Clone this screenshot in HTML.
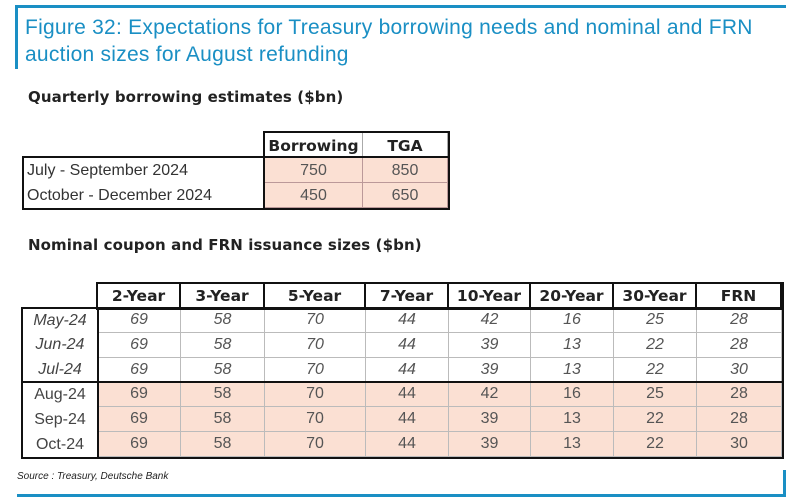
<!DOCTYPE html>
<html><head><meta charset="utf-8"><style>
body{margin:0;width:801px;height:504px;background:#fff;position:relative;overflow:hidden;font-family:"Liberation Sans",sans-serif}
.abs{position:absolute}
.c{position:absolute;box-sizing:border-box;display:flex;align-items:center;justify-content:center;font-size:16px;color:#555}
</style></head><body>
<div class="abs" style="left:15px;top:5px;width:771px;height:3px;background:#1a8fc4"></div>
<div class="abs" style="left:15px;top:5px;width:3px;height:64px;background:#1a8fc4"></div>
<div class="abs" style="left:25px;top:14px;font-size:21px;letter-spacing:0.25px;line-height:27px;color:#1a8fc4">Figure 32: Expectations for Treasury borrowing needs and nominal and FRN<br>auction sizes for August refunding</div>
<div class="abs" style="left:28px;top:88px;font-size:15px;font-weight:bold;color:#222;font-family:'DejaVu Sans',sans-serif;letter-spacing:0.1px">Quarterly borrowing estimates ($bn)</div>
<div class="abs" style="left:28px;top:236px;font-size:15px;font-weight:bold;color:#222;font-family:'DejaVu Sans',sans-serif;letter-spacing:0.1px">Nominal coupon and FRN issuance sizes ($bn)</div>
<div id="t1"></div>
<div id="t2"></div>
<div class="abs" style="left:17px;top:471px;font-size:10px;font-style:italic;color:#222">Source : Treasury, Deutsche Bank</div>
<div class="abs" style="left:17px;top:494px;width:769px;height:3px;background:#1a8fc4"></div>
<div class="abs" style="left:783px;top:470px;width:3px;height:27px;background:#1a8fc4"></div>
<script>
const t1Headers=["Borrowing","TGA"];
const t1Rows=["July - September 2024","October - December 2024"];
const t1Borrowing=[750,450];
const t1TGA=[850,650];
const t2Headers=["2-Year","3-Year","5-Year","7-Year","10-Year","20-Year","30-Year","FRN"];
const t2Rows=["May-24","Jun-24","Jul-24","Aug-24","Sep-24","Oct-24"];
const t2Values=[
[69,58,70,44,42,16,25,28],
[69,58,70,44,39,13,22,28],
[69,58,70,44,39,13,22,30],
[69,58,70,44,42,16,25,28],
[69,58,70,44,39,13,22,28],
[69,58,70,44,39,13,22,30]];
const PINK="#fbe0d3";
function cell(parent,x,y,w,h,txt,st){
  const d=document.createElement('div');d.className='c';
  d.style.left=x+'px';d.style.top=y+'px';d.style.width=w+'px';d.style.height=h+'px';
  Object.assign(d.style,st||{});d.textContent=txt;parent.appendChild(d);return d;}
function box(parent,x,y,w,h,b){
  const d=document.createElement('div');d.className='abs';
  d.style.cssText=`left:${x}px;top:${y}px;width:${w}px;height:${h}px;border:${b};box-sizing:border-box`;
  
  
  parent.appendChild(d);}
const t1=document.getElementById('t1');
const c1=[265,363,448];
t1Headers.forEach((h,i)=>{
  const d=cell(t1,c1[i],133,c1[i+1]-c1[i],25,h,{fontWeight:'bold',color:'#222',fontFamily:"'DejaVu Sans',sans-serif",fontSize:'15.5px',borderRight:'1px solid #aaa'});
  
  
});
t1Rows.forEach((r,i)=>{
  const y=158+i*25;
  const l=cell(t1,23,y,242,25,r,{justifyContent:'flex-start',paddingLeft:'4px',color:'#333'});
  
  
  [t1Borrowing[i],t1TGA[i]].forEach((v,j)=>{
    const d=cell(t1,c1[j],y,c1[j+1]-c1[j],25,v,{background:PINK,borderRight:'1px solid #b99',borderBottom:'1px solid #b99',paddingTop:'2px'});
    
    
  });
});
box(t1,263,131,187,79,'2px solid #111');
box(t1,22,156,428,54,'2px solid #111');
const t2=document.getElementById('t2');
const c2=[98,181,265,366,449,531,614,697,782];
t2Headers.forEach((h,i)=>{
  const d=cell(t2,c2[i],284,c2[i+1]-c2[i],24,h,{fontWeight:'bold',color:'#222',fontFamily:"'DejaVu Sans',sans-serif",fontSize:'15.5px',borderRight:'2px solid #111'});
  
  
});
t2Rows.forEach((r,i)=>{
  const y=308+i*24.8;const hist=i<3;
  const l=cell(t2,22,y,76,25,r,{fontStyle:hist?'italic':'normal',color:'#444'});
  
  
  t2Values[i].forEach((v,j)=>{
    const d=cell(t2,c2[j],y,c2[j+1]-c2[j],25,v,{background:hist?'#fff':PINK,fontStyle:hist?'italic':'normal',borderRight:'1px solid #bbb',borderBottom:'1px solid #bbb'});
    
    
  });
});
box(t2,96,282,688,28,'2px solid #111');
box(t2,21,307,763,152,'2px solid #111');
box(t2,21,307,78,152,'2px solid #111');
box(t2,21,381,763,78,'2px solid #111');
</script>
</body></html>
